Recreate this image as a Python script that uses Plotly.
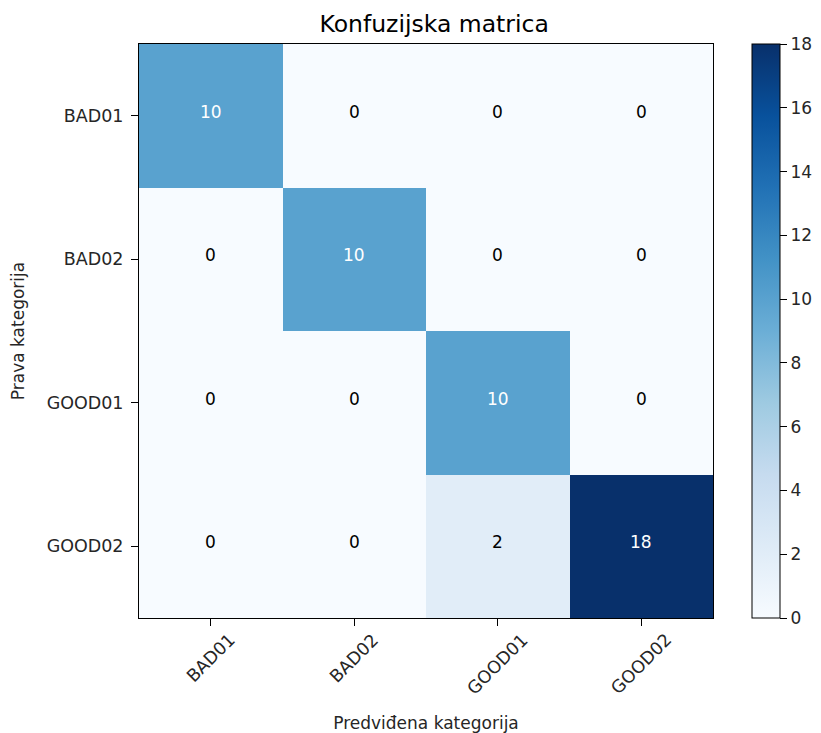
import plotly.graph_objects as go

categories = ["BAD01", "BAD02", "GOOD01", "GOOD02"]
matrix = [
    [10, 0, 0, 0],
    [0, 10, 0, 0],
    [0, 0, 10, 0],
    [0, 0, 2, 18],
]
colorbar_ticks = [0, 2, 4, 6, 8, 10, 12, 14, 16, 18]

blues = ["#f7fbff", "#deebf7", "#c6dbef", "#9ecae1", "#6baed6",
         "#4292c6", "#2171b5", "#08519c", "#08306b"]
colorscale = [[i / (len(blues) - 1), c] for i, c in enumerate(blues)]

FONT = "DejaVu Sans"
TXT = "#262626"
zmax = max(max(r) for r in matrix)

W, H = 813, 725
L, T, PW, PH = 131, 36, 574, 574
TICKLEN = 7

fig = go.Figure(go.Heatmap(
    z=matrix, x=categories, y=categories,
    colorscale=colorscale, zmin=0, zmax=zmax,
    hoverinfo="z",
    colorbar=dict(
        x=1.068, xanchor="left", xref="paper",
        y=0.5, yanchor="middle", len=1.0, lenmode="fraction",
        thickness=28, outlinewidth=1, outlinecolor="black",
        xpad=0, ypad=0,
        tickvals=colorbar_ticks,
        ticks="outside", ticklen=TICKLEN,
        tickcolor="black", tickwidth=1,
        tickfont=dict(family=FONT, size=17, color=TXT),
    ),
))

thresh = zmax / 2
for i, row in enumerate(matrix):
    for j, v in enumerate(row):
        fig.add_annotation(
            x=categories[j], y=categories[i], text=str(v), showarrow=False,
            yshift=4,
            font=dict(family=FONT, size=17,
                      color="white" if v > thresh else "black"),
        )

# rotated x tick labels, centred on each tick (matplotlib rotation=45 style)
for c in categories:
    fig.add_annotation(
        x=c, xref="x", y=0, yref="paper", text=c, showarrow=False,
        textangle=-45, xanchor="center", yanchor="top",
        yshift=-(TICKLEN + 2),
        font=dict(family=FONT, size=17.5, color=TXT),
    )

fig.update_layout(
    width=W, height=H,
    margin=dict(l=L, r=W - L - PW, t=T, b=H - T - PH, autoexpand=False),
    paper_bgcolor="white", plot_bgcolor="white",
    title=dict(text="Konfuzijska matrica", x=(L + PW / 2) / W, xref="paper",
               xanchor="center", y=1 - 16 / H, yanchor="middle",
               font=dict(family=FONT, size=23.5, color="black")),
    font=dict(family=FONT, size=17.5, color=TXT),
    xaxis=dict(
        title=dict(text="Predviđena kategorija", font=dict(size=17, color=TXT),
                   standoff=18),
        tickangle=-45, ticks="outside", ticklen=TICKLEN, tickcolor="black",
        showline=True, linecolor="black", linewidth=1, mirror=True,
        showgrid=False, zeroline=False,
        tickfont=dict(size=17.5, color="rgba(0,0,0,0)"),
    ),
    yaxis=dict(
        title=dict(text="Prava kategorija", font=dict(size=17), standoff=22),
        autorange="reversed", ticks="outside", ticklen=TICKLEN, tickcolor="black",
        showline=True, linecolor="black", linewidth=1, mirror=True,
        showgrid=False, zeroline=False, tickfont=dict(size=17.5),
        ticklabelstandoff=4,
    ),
)

fig.write_html("out.html")
